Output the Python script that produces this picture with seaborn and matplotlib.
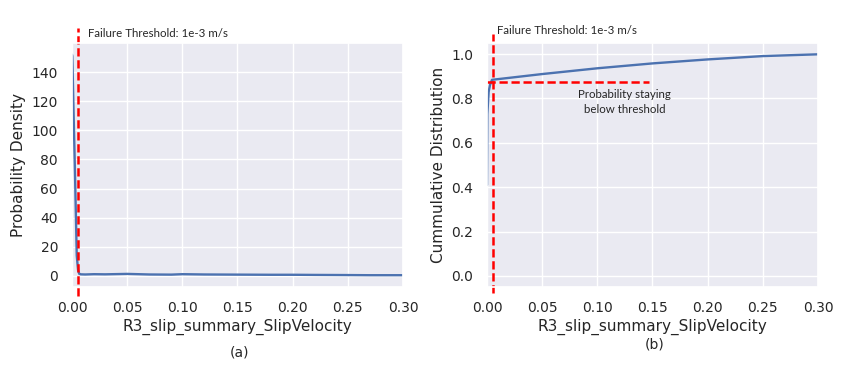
import numpy as np
import pandas as pd
import matplotlib
matplotlib.use("Agg")
import matplotlib.pyplot as plt
import seaborn as sns

# valeurs
densite_x = [0.0, 0.0003, 0.0015, 0.0027, 0.0043, 0.0055, 0.0065, 0.008,
             0.012, 0.02, 0.03, 0.05, 0.07, 0.09, 0.10, 0.12, 0.15, 0.18, 0.20, 0.22, 0.25, 0.27, 0.30]
densite_y = [152, 151, 110, 71, 14, 4, 1.5, 1.1,
             1.0, 1.2, 1.1, 1.4, 1.0, 0.9, 1.2, 1.0, 0.9, 0.8, 0.8, 0.7, 0.6, 0.5, 0.5]

cdf_x = [0.0, 0.0003, 0.0015, 0.0027, 0.0045, 0.05, 0.10, 0.15, 0.20, 0.25, 0.30]
cdf_y = [0.41, 0.73, 0.83, 0.86, 0.884, 0.910, 0.936, 0.958, 0.976, 0.991, 0.999]

seuil = 0.005
proba_seuil = 0.876
seuil_texte = "Failure Threshold: 1e-3 m/s"
xlabel = "R3_slip_summary_SlipVelocity"

sns.set_theme(style="darkgrid")
annot_font = ["Lato", "DejaVu Sans"]

fig = plt.figure(figsize=(8.54, 3.72), dpi=100)
ax1 = fig.add_axes([72 / 854, 85 / 372, 331 / 854, 244 / 372])
ax2 = fig.add_axes([487 / 854, 85 / 372, 331 / 854, 244 / 372])

rouge = dict(color="red", linestyle=(0, (3.3, 1.5)), linewidth=1.8)

# (a) densité de probabilité
df_a = pd.DataFrame({"x": densite_x, "y": densite_y})
sns.lineplot(data=df_a, x="x", y="y", ax=ax1, color="#4c72b0", linewidth=1.7)
ax1.set_xlim(0, 0.30)
ax1.set_ylim(-7.6, 160)
ax1.set_yticks(np.arange(0, 141, 20))
ax1.set_xticks(np.arange(0, 0.301, 0.05))
ax1.set_xlabel(xlabel, fontsize=11, labelpad=3)
ax1.set_ylabel("Probability Density", fontsize=11)
ax1.tick_params(labelsize=10, pad=4)
ax1.axvline(seuil, ymin=-0.035, ymax=1.06, clip_on=False, **rouge)
ax1.text(0.048, 1.037, seuil_texte, transform=ax1.transAxes, fontsize=8.3,
         family=annot_font, va="center", ha="left")

# (b) distribution cumulative
df_b = pd.DataFrame({"x": cdf_x, "y": cdf_y})
sns.lineplot(data=df_b, x="x", y="y", ax=ax2, color="#4c72b0", linewidth=1.7)
ax2.set_xlim(0, 0.30)
ax2.set_ylim(-0.05, 1.05)
ax2.set_yticks(np.arange(0, 1.01, 0.2))
ax2.set_xticks(np.arange(0, 0.301, 0.05))
ax2.set_xlabel(xlabel, fontsize=11, labelpad=3)
ax2.set_ylabel("Cummulative Distribution", fontsize=11)
ax2.tick_params(labelsize=10, pad=4)
ax2.axvline(seuil, ymin=-0.025, ymax=1.035, clip_on=False, **rouge)
ax2.plot([0, 0.147], [proba_seuil, proba_seuil], **rouge)
ax2.text(0.03, 1.053, seuil_texte, transform=ax2.transAxes, fontsize=8.3,
         family=annot_font, va="center", ha="left")
ax2.text(0.125, 0.785, "Probability staying\nbelow threshold", fontsize=8.3,
         family=annot_font, ha="center", va="center", linespacing=1.4)

fig.text(240 / 854, 1 - 352 / 372, "(a)", ha="center", va="center", fontsize=10)
fig.text(655 / 854, 1 - 344 / 372, "(b)", ha="center", va="center", fontsize=10)

fig.savefig("out.png", dpi=100)
